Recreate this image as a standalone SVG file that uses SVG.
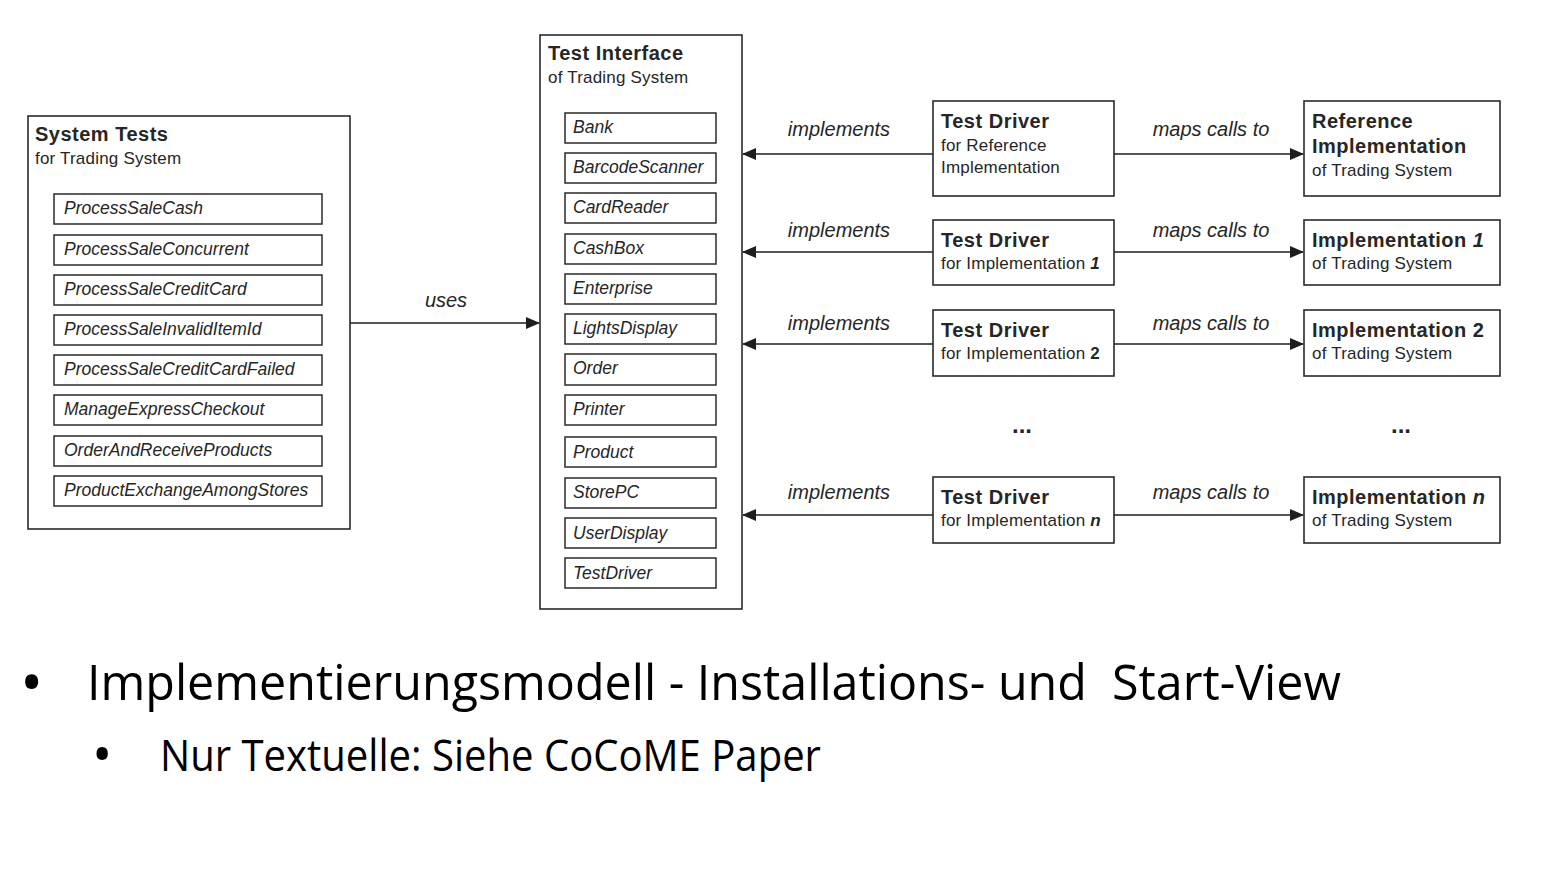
<svg xmlns="http://www.w3.org/2000/svg" width="1542" height="876" viewBox="0 0 1542 876">
<style>
  .box{fill:#fff;stroke:#2a2a2a;stroke-width:1.6}
  .item{fill:#fff;stroke:#2a2a2a;stroke-width:1.5}
  .t{font-family:"Liberation Sans",Arial,sans-serif;fill:#262626}
  .h{font-size:20px;font-weight:bold;letter-spacing:0.5px}
  .s{font-size:17px;letter-spacing:0.2px}
  .i{font-size:17.5px;font-style:italic}
  .lbl{font-size:20px;font-style:italic;text-anchor:middle}
  .conn{stroke:#1e1e1e;stroke-width:1.6;fill:none}
  .b{font-family:"Open Sans","Noto Sans",sans-serif;fill:#000}
</style>
<defs>
  <marker id="ah" markerWidth="14" markerHeight="12" refX="13" refY="6" orient="auto" markerUnits="userSpaceOnUse">
    <path d="M0,0 L14,6 L0,12 Z" fill="#1e1e1e"/>
  </marker>
</defs>
<rect width="1542" height="876" fill="#fff"/>

<g id="connectors">
  <line class="conn" x1="350" y1="323" x2="539" y2="323" marker-end="url(#ah)"/>
  <line class="conn" x1="933" y1="154" x2="743" y2="154" marker-end="url(#ah)"/>
  <line class="conn" x1="933" y1="252" x2="743" y2="252" marker-end="url(#ah)"/>
  <line class="conn" x1="933" y1="344" x2="743" y2="344" marker-end="url(#ah)"/>
  <line class="conn" x1="933" y1="515" x2="743" y2="515" marker-end="url(#ah)"/>
  <line class="conn" x1="1114" y1="154" x2="1303" y2="154" marker-end="url(#ah)"/>
  <line class="conn" x1="1114" y1="252" x2="1303" y2="252" marker-end="url(#ah)"/>
  <line class="conn" x1="1114" y1="344" x2="1303" y2="344" marker-end="url(#ah)"/>
  <line class="conn" x1="1114" y1="515" x2="1303" y2="515" marker-end="url(#ah)"/>
  <text class="t lbl" x="446" y="307">uses</text>
  <text class="t lbl" x="839" y="136">implements</text>
  <text class="t lbl" x="839" y="237">implements</text>
  <text class="t lbl" x="839" y="330">implements</text>
  <text class="t lbl" x="839" y="499">implements</text>
  <text class="t lbl" x="1211" y="136">maps calls to</text>
  <text class="t lbl" x="1211" y="237">maps calls to</text>
  <text class="t lbl" x="1211" y="330">maps calls to</text>
  <text class="t lbl" x="1211" y="499">maps calls to</text>
</g>

<g id="system-tests">
  <rect class="box" x="28" y="116" width="322" height="413"/>
  <text class="t h" x="35" y="141">System Tests</text>
  <text class="t s" x="35" y="164">for Trading System</text>
  <rect class="item" x="54" y="194" width="268" height="30"/><text class="t i" x="64" y="214">ProcessSaleCash</text>
  <rect class="item" x="54" y="235" width="268" height="30"/><text class="t i" x="64" y="255">ProcessSaleConcurrent</text>
  <rect class="item" x="54" y="275" width="268" height="30"/><text class="t i" x="64" y="295">ProcessSaleCreditCard</text>
  <rect class="item" x="54" y="315" width="268" height="30"/><text class="t i" x="64" y="335">ProcessSaleInvalidItemId</text>
  <rect class="item" x="54" y="355" width="268" height="30"/><text class="t i" x="64" y="375">ProcessSaleCreditCardFailed</text>
  <rect class="item" x="54" y="395" width="268" height="30"/><text class="t i" x="64" y="415">ManageExpressCheckout</text>
  <rect class="item" x="54" y="436" width="268" height="30"/><text class="t i" x="64" y="456">OrderAndReceiveProducts</text>
  <rect class="item" x="54" y="476" width="268" height="30"/><text class="t i" x="64" y="496">ProductExchangeAmongStores</text>
</g>

<g id="test-interface">
  <rect class="box" x="540" y="35" width="202" height="574"/>
  <text class="t h" x="548" y="60">Test Interface</text>
  <text class="t s" x="548" y="83">of Trading System</text>
  <rect class="item" x="565" y="113" width="151" height="30"/><text class="t i" x="573" y="133">Bank</text>
  <rect class="item" x="565" y="153" width="151" height="30"/><text class="t i" x="573" y="173">BarcodeScanner</text>
  <rect class="item" x="565" y="193" width="151" height="30"/><text class="t i" x="573" y="213">CardReader</text>
  <rect class="item" x="565" y="234" width="151" height="30"/><text class="t i" x="573" y="254">CashBox</text>
  <rect class="item" x="565" y="274" width="151" height="30"/><text class="t i" x="573" y="294">Enterprise</text>
  <rect class="item" x="565" y="314" width="151" height="30"/><text class="t i" x="573" y="334">LightsDisplay</text>
  <rect class="item" x="565" y="354" width="151" height="31"/><text class="t i" x="573" y="374">Order</text>
  <rect class="item" x="565" y="395" width="151" height="30"/><text class="t i" x="573" y="415">Printer</text>
  <rect class="item" x="565" y="437" width="151" height="30"/><text class="t i" x="573" y="458">Product</text>
  <rect class="item" x="565" y="478" width="151" height="30"/><text class="t i" x="573" y="498">StorePC</text>
  <rect class="item" x="565" y="518" width="151" height="30"/><text class="t i" x="573" y="539">UserDisplay</text>
  <rect class="item" x="565" y="558" width="151" height="30"/><text class="t i" x="573" y="579">TestDriver</text>
</g>

<g id="test-driver-ref">
  <rect class="box" x="933" y="101" width="181" height="95"/>
  <text class="t h" x="941" y="128">Test Driver</text>
  <text class="t s" x="941" y="151">for Reference</text>
  <text class="t s" x="941" y="173">Implementation</text>
</g>
<g id="test-driver-1">
  <rect class="box" x="933" y="220" width="181" height="65"/>
  <text class="t h" x="941" y="247">Test Driver</text>
  <text class="t s" x="941" y="269">for Implementation <tspan font-weight="bold" font-style="italic">1</tspan></text>
</g>
<g id="test-driver-2">
  <rect class="box" x="933" y="310" width="181" height="66"/>
  <text class="t h" x="941" y="337">Test Driver</text>
  <text class="t s" x="941" y="359">for Implementation <tspan font-weight="bold">2</tspan></text>
</g>
<g id="test-driver-n">
  <rect class="box" x="933" y="477" width="181" height="66"/>
  <text class="t h" x="941" y="504">Test Driver</text>
  <text class="t s" x="941" y="526">for Implementation <tspan font-weight="bold" font-style="italic">n</tspan></text>
</g>

<g id="ref-impl">
  <rect class="box" x="1304" y="101" width="196" height="95"/>
  <text class="t h" x="1312" y="128">Reference</text>
  <text class="t h" x="1312" y="153">Implementation</text>
  <text class="t s" x="1312" y="176">of Trading System</text>
</g>
<g id="impl-1">
  <rect class="box" x="1304" y="220" width="196" height="65"/>
  <text class="t h" x="1312" y="247">Implementation <tspan font-style="italic">1</tspan></text>
  <text class="t s" x="1312" y="269">of Trading System</text>
</g>
<g id="impl-2">
  <rect class="box" x="1304" y="310" width="196" height="66"/>
  <text class="t h" x="1312" y="337">Implementation 2</text>
  <text class="t s" x="1312" y="359">of Trading System</text>
</g>
<g id="impl-n">
  <rect class="box" x="1304" y="477" width="196" height="66"/>
  <text class="t h" x="1312" y="504">Implementation <tspan font-style="italic">n</tspan></text>
  <text class="t s" x="1312" y="526">of Trading System</text>
</g>

<g id="ellipses">
  <text class="t" x="1022" y="433" text-anchor="middle" font-size="24" font-weight="bold">...</text>
  <text class="t" x="1401" y="433" text-anchor="middle" font-size="24" font-weight="bold">...</text>
</g>

<g id="bullets">
  <text class="b" x="20" y="704" font-size="62">•</text>
  <text class="b" x="87" y="700" font-size="50" textLength="1254" lengthAdjust="spacingAndGlyphs" xml:space="preserve">Implementierungsmodell - Installations- und  Start-View</text>
  <text class="b" x="92" y="774" font-size="54">•</text>
  <text class="b" x="160" y="771" font-size="43" textLength="661" lengthAdjust="spacingAndGlyphs">Nur Textuelle: Siehe CoCoME Paper</text>
</g>
</svg>
